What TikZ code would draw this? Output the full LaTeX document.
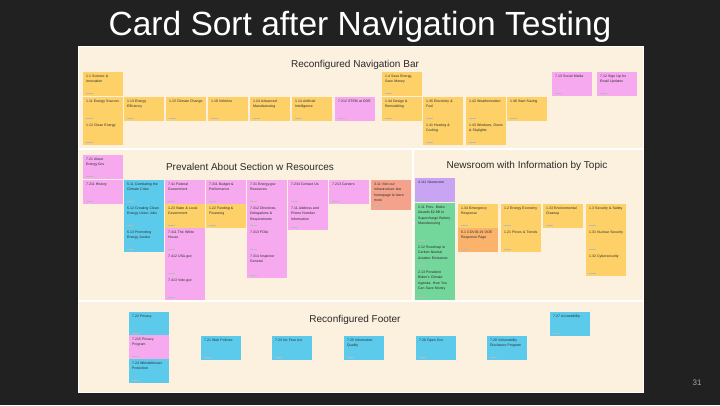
\documentclass[tikz,border=0pt]{standalone}
\usepackage{fontspec}
\setmainfont{Liberation Sans}
\usetikzlibrary{positioning}

\definecolor{slide}{HTML}{212121}
\definecolor{board}{HTML}{FCF0DE}
\definecolor{yel}{HTML}{FDD168}
\definecolor{pnk}{HTML}{F6A9EE}
\definecolor{blu}{HTML}{5CCBEB}
\definecolor{grn}{HTML}{73D69B}
\definecolor{prp}{HTML}{C9A3F4}
\definecolor{slm}{HTML}{F4A28B}
\definecolor{orng}{HTML}{FBB36B}
\definecolor{ink}{HTML}{2A2A2A}

\newcommand\nohyph{\hyphenpenalty=10000\relax\exhyphenpenalty=10000\relax}

\tikzset{
  card/.style={fill=#1, anchor=north west, text width=34pt, align=left,
    inner xsep=3pt, inner ysep=2pt, text height=3pt, text depth=17pt, text=ink,
    font=\fontsize{3.5}{5.4}\selectfont\nohyph,
    path picture={\draw[gray!55, line width=0.5pt]
      ([xshift=2.5pt,yshift=2.5pt]path picture bounding box.south west) -- ++(7pt,0);}},
  heading/.style={font=\fontsize{10}{11.5}\selectfont, text=ink, anchor=base},
  divider/.style={white, line width=1.2pt}
}

\begin{document}
\begin{tikzpicture}[x=1pt, y=-1pt]
	\fill[slide] (0,0) rectangle (720,405);
	\useasboundingbox (0,0) rectangle (720,405);
	\node[text=white, anchor=base, font=\fontsize{33.5}{38}\selectfont] (title) at (360,35) {Card Sort after Navigation Testing};
	\node[text=gray!70, font=\fontsize{8}{9}\selectfont] (page) at (697,383) {31};
	\fill[board, draw=white, line width=1pt] (78,46) rectangle (643,392);
	\draw[divider] (78,149) -- (643,149);
	\draw[divider] (78,301) -- (643,301);
	\draw[divider] (413,149) -- (413,301);

	% navigation bar
	\node[heading] (navhead) at (355,67.5) {Reconfigured Navigation Bar};
	\node[card=yel] (c11) at (83,72) {1.1 Science \& Innovation};
	\node[card=yel] (c111) at (83,97) {1.11 Energy Sources};
	\node[card=yel] (c112) at (83,121) {1.12 Clean Energy};
	\node[card=yel] (c113) at (124,97) {1.13 Energy Efficiency};
	\node[card=yel] (c115) at (166,97) {1.15 Climate Change};
	\node[card=yel] (c118) at (208,97) {1.18 Vehicles};
	\node[card=yel] (c124) at (250,97) {1.24 Advanced Manufacturing};
	\node[card=yel] (c114) at (292,97) {1.14 Artificial Intelligence};
	\node[card=pnk] (c7212) at (335,97) {7.212 STEM at DOE};
	\node[card=yel] (c14) at (382,72) {1.4 Save Energy, Save Money};
	\node[card=yel] (c144) at (382,97) {1.44 Design \& Remodeling};
	\node[card=yel] (c145) at (423,97) {1.45 Electricity \& Fuel};
	\node[card=yel] (c141) at (423,121) {1.41 Heating \& Cooling};
	\node[card=yel] (c142) at (466,97) {1.42 Weatherization};
	\node[card=yel] (c143) at (466,121) {1.43 Windows, Doors \& Skylights};
	\node[card=yel] (c146) at (507,97) {1.46 Start Saving};
	\node[card=pnk] (c713) at (552,72) {7.13 Social Media};
	\node[card=pnk] (c712) at (597,72) {7.12 Sign Up for Email Updates};

	% about section
	\node[heading] (abouthead) at (250,170) {Prevalent About Section w Resources};
	\node[card=pnk] (c721) at (83,155) {7.21 About Energy.Gov};
	\node[card=pnk] (c7211) at (83,180) {7.211 History};
	\node[card=blu] (c511) at (124,180) {5.11 Combating the Climate Crisis};
	\node[card=blu] (c512) at (124,204) {5.12 Creating Clean Energy Union Jobs};
	\node[card=blu] (c513) at (124,228) {5.13 Promoting Energy Justice};
	\node[card=pnk] (c741) at (165,180) {7.41 Federal Government};
	\node[card=yel] (c123) at (165,204) {1.23 State \& Local Government};
	\node[card=pnk] (c7411) at (165,228) {7.411 The White House};
	\node[card=pnk] (c7412) at (165,252) {7.412 USA.gov};
	\node[card=pnk] (c7413) at (165,276) {7.413 Vote.gov};
	\node[card=pnk] (c7311) at (206,180) {7.311 Budget \& Performance};
	\node[card=yel] (c122) at (206,204) {1.22 Funding \& Financing};
	\node[card=pnk] (c731) at (247,180) {7.31 Energy.gov Resources};
	\node[card=pnk] (c7312) at (247,204) {7.312 Directives, Delegations \& Requirements};
	\node[card=pnk] (c7313) at (247,228) {7.313 FOIA};
	\node[card=pnk, text depth=19pt] (c7314) at (247,252) {7.314 Inspector General};
	\node[card=pnk] (c7234) at (288,180) {7.234 Contact Us};
	\node[card=pnk, text depth=19pt] (c711) at (288,204) {7.11 Address and Phone Number Information};
	\node[card=pnk] (c7213) at (329,180) {7.213 Careers};
	\node[card=slm, text depth=23pt] (c311) at (371,180) {3.11 Visit our infrastructure law homepage to learn more};

	% newsroom
	\node[heading] (newshead) at (527,168.5) {Newsroom with Information by Topic};
	\node[card=prp] (c4111) at (415,178) {4.111 Newsroom};
	\node[card=grn, text depth=33pt] (c211) at (415,203) {2.11 Pres. Biden Awards \$2.8B to Supercharge Battery Manufacturing};
	\node[card=grn, text depth=18pt] (c212) at (415,243) {2.12 Roadmap to Carbon-Neutral Aviation Emissions};
	\node[card=grn, text depth=25pt] (c213) at (415,268) {2.13 President Biden's Climate Agenda: How You Can Save Money};
	\node[card=yel] (c134) at (458,204) {1.34 Emergency Response};
	\node[card=orng] (c61) at (458,228) {6.1 COVID-19 DOE Response Page};
	\node[card=yel] (c12) at (501,204) {1.2 Energy Economy};
	\node[card=yel] (c121) at (501,228) {1.21 Prices \& Trends};
	\node[card=yel] (c133) at (543,204) {1.33 Environmental Cleanup};
	\node[card=yel] (c13) at (586,204) {1.3 Security \& Safety};
	\node[card=yel] (c131) at (586,228) {1.31 Nuclear Security};
	\node[card=yel] (c132) at (586,252) {1.32 Cybersecurity};

	% footer
	\node[heading] (foothead) at (355,322.5) {Reconfigured Footer};
	\node[card=blu] (c722) at (129,312) {7.22 Privacy};
	\node[card=pnk] (c7215) at (129,335) {7.215 Privacy Program};
	\node[card=blu] (c724) at (129,359) {7.24 Whistleblower Protection};
	\node[card=blu] (c7210) at (201,336) {7.21 Web Policies};
	\node[card=blu] (c723) at (272,336) {7.23 No Fear Act};
	\node[card=blu] (c725) at (344,336) {7.25 Information Quality};
	\node[card=blu] (c726) at (416,336) {7.26 Open Gov};
	\node[card=blu] (c728) at (487,336) {7.28 Vulnerability Disclosure Program};
	\node[card=blu] (c727) at (550,312) {7.27 Accessibility};
\end{tikzpicture}
\end{document}
